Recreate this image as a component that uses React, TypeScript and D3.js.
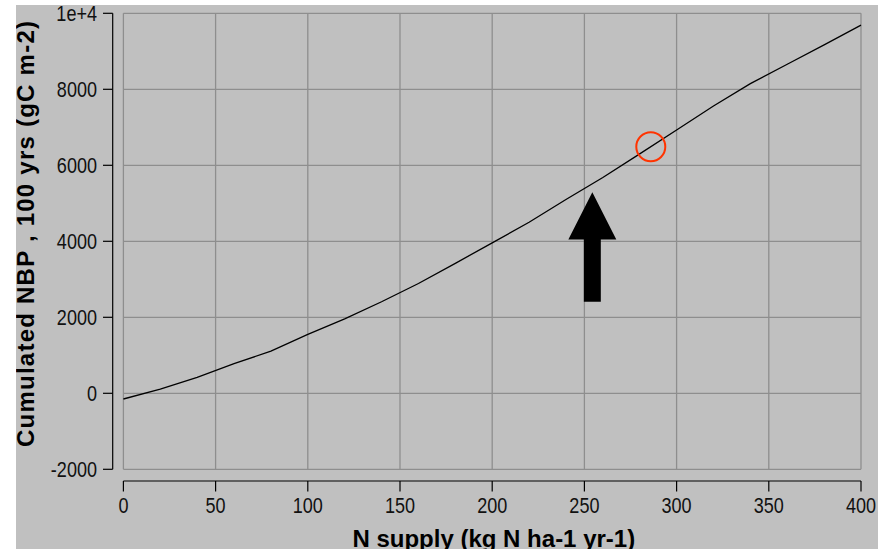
import React from "react";
import * as d3 from "d3";

// N supply (kg N ha-1 yr-1) and cumulated NBP over 100 years (gC m-2)
const nSupply = [0, 20, 40, 60, 80, 100, 120, 140, 160, 180, 200, 220, 240, 260, 280, 300, 320, 340, 360, 380, 400];
const cumNbp = [-150, 110, 420, 780, 1110, 1550, 1960, 2410, 2890, 3420, 3960, 4500, 5100, 5680, 6300, 6930, 7560, 8150, 8660, 9170, 9690];

const xTicks = [0, 50, 100, 150, 200, 250, 300, 350, 400];
const yTicks = [-2000, 0, 2000, 4000, 6000, 8000, 10000];
const yTickLabels = ["-2000", "0", "2000", "4000", "6000", "8000", "1e+4"];

// highlighted operating point and arrow annotation (data units)
const markPoint = { x: 286, y: 6490 };
const arrow = { x: 254.3, tip: 5290, headBase: 4050, headHalf: 13, shaftHalf: 4.6, bottom: 2410 };

const W = 889;
const H = 559;

export default function App() {
  const x = d3.scaleLinear().domain([0, 400]).range([123.4, 861]);
  const y = d3.scaleLinear().domain([-2000, 10000]).range([469.3, 13.3]);

  const line = d3
    .line<number>()
    .x((_, i) => x(nSupply[i]))
    .y((d) => y(d));

  const arrowPath = d3.path();
  arrowPath.moveTo(x(arrow.x), y(arrow.tip));
  arrowPath.lineTo(x(arrow.x + arrow.headHalf), y(arrow.headBase));
  arrowPath.lineTo(x(arrow.x + arrow.shaftHalf), y(arrow.headBase));
  arrowPath.lineTo(x(arrow.x + arrow.shaftHalf), y(arrow.bottom));
  arrowPath.lineTo(x(arrow.x - arrow.shaftHalf), y(arrow.bottom));
  arrowPath.lineTo(x(arrow.x - arrow.shaftHalf), y(arrow.headBase));
  arrowPath.lineTo(x(arrow.x - arrow.headHalf), y(arrow.headBase));
  arrowPath.closePath();

  const [x0, x1] = x.range();
  const [yb, yt] = y.range();
  const tickFont = "'Liberation Sans', Arial, sans-serif";
  const titleFont = "'Liberation Sans', Arial, Helvetica, sans-serif";
  // tick labels use a narrow, tall digit shape
  const squeeze = "scale(0.86,1.02)";

  return (
    <div style={{ position: "fixed", left: 0, top: 0 }}>
      <svg width={W} height={H} style={{ display: "block", background: "#ffffff" }}>
        <defs>
          <clipPath id="panel">
            <rect x={16} y={5} width={862} height={544} />
          </clipPath>
        </defs>
        <rect x={16} y={5} width={862} height={544} fill="#c0c0c0" />

        {/* grid */}
        <g stroke="#8e8e8e" strokeWidth={1.3}>
          {xTicks.map((t) => (
            <line key={"gx" + t} x1={x(t)} x2={x(t)} y1={yt} y2={yb} />
          ))}
          {yTicks.map((t) => (
            <line key={"gy" + t} x1={x0} x2={x1} y1={y(t)} y2={y(t)} />
          ))}
        </g>

        {/* y axis */}
        <g stroke="#000" strokeWidth={1.2}>
          <line x1={112.7} x2={112.7} y1={yt} y2={yb} />
          {yTicks.map((t) => (
            <line key={"ty" + t} x1={103} x2={112.7} y1={y(t)} y2={y(t)} />
          ))}
        </g>
        <g fontFamily={tickFont} fontSize={21} fill="#111" textAnchor="end">
          {yTicks.map((t, i) => (
            <text key={"ly" + t} transform={`translate(97,${y(t)}) ${squeeze}`} dy="0.36em">
              {yTickLabels[i]}
            </text>
          ))}
        </g>

        {/* x axis */}
        <g stroke="#000" strokeWidth={1.2}>
          <line x1={x0} x2={x1} y1={481} y2={481} />
          {xTicks.map((t) => (
            <line key={"tx" + t} x1={x(t)} x2={x(t)} y1={481} y2={491.5} />
          ))}
        </g>
        <g fontFamily={tickFont} fontSize={21} fill="#111" textAnchor="middle">
          {xTicks.map((t) => (
            <text key={"lx" + t} transform={`translate(${x(t)},512.8) ${squeeze}`}>
              {t}
            </text>
          ))}
        </g>

        {/* data */}
        <path d={line(cumNbp) ?? ""} fill="none" stroke="#000" strokeWidth={1.3} />
        <circle cx={x(markPoint.x)} cy={y(markPoint.y)} r={14.5} fill="none" stroke="#ff3300" strokeWidth={2} />
        <path d={arrowPath.toString()} fill="#000" />

        {/* axis titles */}
        <g clipPath="url(#panel)" fontFamily={titleFont} fontWeight="bold" fontSize={24} fill="#000">
          <text x={493.8} y={546.5} textAnchor="middle">
            N supply (kg N ha-1 yr-1)
          </text>
          <text
            transform="translate(33.5,234) rotate(-90)"
            textAnchor="middle"
            textLength={426}
            lengthAdjust="spacing"
          >
            Cumulated NBP , 100 yrs (gC m-2)
          </text>
        </g>
      </svg>
    </div>
  );
}
